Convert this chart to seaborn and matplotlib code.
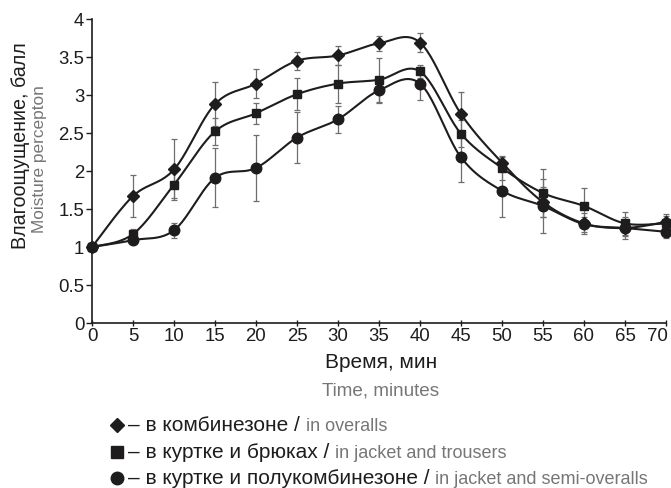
import numpy as np
import pandas as pd
import matplotlib
matplotlib.use("Agg")
import matplotlib.pyplot as plt
from matplotlib.lines import Line2D
import matplotlib.transforms as mtransforms
import seaborn as sns

# ---------------- data ----------------
time = [0, 5, 10, 15, 20, 25, 30, 35, 40, 45, 50, 55, 60, 65, 70]
overalls = [1.0, 1.67, 2.02, 2.88, 3.15, 3.45, 3.52, 3.68, 3.69, 2.75, 2.11, 1.59, 1.31, 1.25, 1.33]
overalls_err = [0.0, 0.28, 0.40, 0.29, 0.19, 0.12, 0.12, 0.10, 0.12, 0.29, 0.08, 0.20, 0.14, 0.15, 0.10]
jacket = [1.0, 1.17, 1.82, 2.52, 2.76, 3.01, 3.15, 3.20, 3.31, 2.49, 2.04, 1.71, 1.54, 1.31, 1.31]
jacket_err = [0.0, 0.07, 0.18, 0.18, 0.14, 0.21, 0.25, 0.29, 0.09, 0.18, 0.16, 0.32, 0.24, 0.15, 0.10]
semi = [1.0, 1.09, 1.22, 1.91, 2.04, 2.44, 2.68, 3.06, 3.15, 2.18, 1.74, 1.54, 1.30, 1.25, 1.20]
semi_err = [0.0, 0.03, 0.10, 0.39, 0.44, 0.33, 0.18, 0.17, 0.22, 0.32, 0.34, 0.35, 0.10, 0.10, 0.08]

y_ticks = [0, 0.5, 1, 1.5, 2, 2.5, 3, 3.5, 4]
y_tick_labels = ["0", "0.5", "1", "1.5", "2", "2.5", "3", "3.5", "4"]
x_ticks = time

ylabel_ru = "Влагоощущение, балл"
ylabel_en = "Moisture percepton"
xlabel_ru = "Время, мин"
xlabel_en = "Time, minutes"
legend_ru = ["– в комбинезоне / ", "– в куртке и брюках / ", "– в куртке и полукомбинезоне / "]
legend_en = ["in overalls", "in jacket and trousers", "in jacket and semi-overalls"]
markers = ["D", "s", "o"]

# ---------------- style ----------------
sns.set_theme(style="ticks")
plt.rcParams["font.family"] = ["Liberation Sans", "DejaVu Sans"]

BLACK = "#1e1c1d"
GRAY = "#767676"
ERR = "#6e6e6e"


def smooth(xs, ys, n=24):
    """Excel-like Catmull-Rom smoothing for drawing the connecting curve."""
    x = np.asarray(xs, float)
    y = np.asarray(ys, float)
    px = np.concatenate([[x[0]], x, [x[-1]]])
    py = np.concatenate([[y[0]], y, [y[-1]]])
    t = np.linspace(0, 1, n, endpoint=False)
    h00 = 2 * t**3 - 3 * t**2 + 1
    h10 = t**3 - 2 * t**2 + t
    h01 = -2 * t**3 + 3 * t**2
    h11 = t**3 - t**2
    ox, oy = [], []
    for i in range(1, len(px) - 2):
        for p, o in ((px, ox), (py, oy)):
            m1 = (p[i + 1] - p[i - 1]) / 2
            m2 = (p[i + 2] - p[i]) / 2
            o.extend(h00 * p[i] + h10 * m1 + h01 * p[i + 1] + h11 * m2)
    ox.append(x[-1])
    oy.append(y[-1])
    return np.array(ox), np.array(oy)


W, H = 671, 488
fig = plt.figure(figsize=(W / 100, H / 100), dpi=100)
ax = fig.add_axes([92 / W, 1 - 323 / H, (666 - 92) / W, (323 - 19) / H])

series = [(overalls, overalls_err), (jacket, jacket_err), (semi, semi_err)]
msizes = [6.0, 6.3, 7.6]
for (vals, err), mk, ms in zip(series, markers, msizes):
    ax.errorbar(time, vals, yerr=err, fmt="none", ecolor=ERR, elinewidth=0.9,
                capsize=2.3, capthick=0.9, zorder=2, clip_on=False)
    sx, sy = smooth(time, vals)
    curve = pd.DataFrame({"x": sx, "y": sy})
    sns.lineplot(data=curve, x="x", y="y", ax=ax, sort=False, estimator=None,
                 color=BLACK, linewidth=1.5, zorder=3)
    pts = pd.DataFrame({"x": time, "y": vals})
    ax.plot(pts["x"], pts["y"], linestyle="none", marker=mk, markersize=ms,
            color=BLACK, markeredgecolor=BLACK, zorder=4, clip_on=False)

ax.set_xlim(0, 70)
ax.set_ylim(0, 4)
ax.set_xticks(x_ticks)
ax.set_xticklabels([str(v) for v in x_ticks])
ax.set_yticks(y_ticks)
ax.set_yticklabels(y_tick_labels)
ax.set_xlabel("")
ax.set_ylabel("")
sns.despine(ax=ax)
for s in ("left", "bottom"):
    ax.spines[s].set_color(BLACK)
    ax.spines[s].set_linewidth(1.2)
ax.tick_params(axis="x", direction="inout", length=5, width=1.0, color=BLACK,
               labelsize=13.4, pad=1, labelcolor=BLACK)
ax.tick_params(axis="y", direction="out", length=4, width=1.0, color=BLACK,
               labelsize=13.4, pad=1.5, labelcolor=BLACK)
last = ax.get_xticklabels()[-1]
last.set_horizontalalignment("right")
last.set_transform(last.get_transform() + mtransforms.ScaledTranslation(2 / 100, 0, fig.dpi_scale_trans))

# axis titles
fig.text(21 / W, 1 - 146 / H, ylabel_ru, rotation=90, ha="center", va="center",
         fontsize=14.2, color=BLACK)
fig.text(40 / W, 1 - 159 / H, ylabel_en, rotation=90, ha="center", va="center",
         fontsize=12.4, color=GRAY)
fig.text(381 / W, 1 - 362 / H, xlabel_ru, ha="center", va="center",
         fontsize=15, color=BLACK)
fig.text(381 / W, 1 - 391 / H, xlabel_en, ha="center", va="center",
         fontsize=13.6, color=GRAY)

# legend built as text lines
renderer = fig.canvas.get_renderer()
rows_y = [425, 452, 478]
leg_ms = [9.0, 9.3, 9.0]
for mk, ru, en, yy, lms in zip(markers, legend_ru, legend_en, rows_y, leg_ms):
    fig.add_artist(Line2D([117 / W], [1 - yy / H], marker=mk, markersize=lms if mk != "D" else 7.5,
                          color=BLACK, linestyle="none", transform=fig.transFigure))
    base = 1 - (yy + 6) / H
    t = fig.text(128 / W, base, ru, ha="left", va="baseline", fontsize=15, color=BLACK)
    bb = t.get_window_extent(renderer)
    fig.text(bb.x1 / W, base, en, ha="left", va="baseline", fontsize=13, color=GRAY)

fig.savefig("out.png", dpi=100)
